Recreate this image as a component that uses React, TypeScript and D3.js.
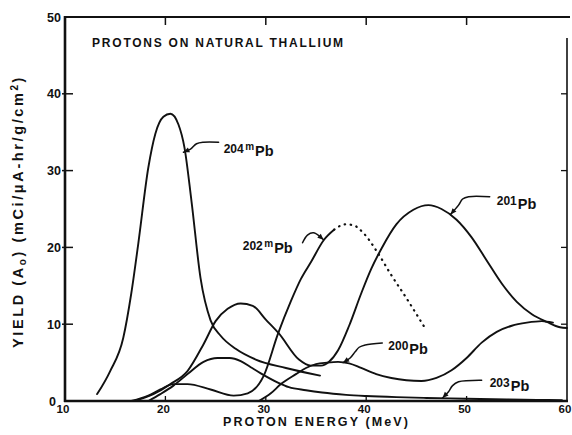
import React from 'react';
import * as d3 from 'd3';

// ---- data (E in MeV, yield in mCi/uA-hr/g/cm2) ----
const xTickValues = [10, 20, 30, 40, 50, 60];
const yTickValues = [0, 10, 20, 30, 40, 50];
const xTickLabels = ['10', '20', '30', '40', '50', '60'];
const yTickLabels = ['0', '10', '20', '30', '40', '50'];

const e204m = [13.2, 14.5, 15.8, 16.6, 17.3, 18.3, 19.0, 19.8, 20.5, 21.3, 21.9, 22.6, 23.5, 24.5, 25.5, 27.0, 29.0, 32.0, 35.4];
const y204m = [0.9, 3.9, 8.2, 14.0, 20.5, 30.4, 34.8, 37.0, 37.4, 36.0, 33.0, 26.0, 16.0, 10.5, 8.5, 6.8, 5.4, 4.3, 3.3];

const e201 = [16.9, 18.8, 20.5, 22.2, 23.8, 25.0, 26.2, 27.5, 28.7, 30.0, 31.3, 33.3, 34.5, 35.5, 36.3, 37.2, 38.3, 39.5, 40.5, 41.5, 43.0, 44.7, 46.2, 47.5, 49.0, 50.5, 52.0, 53.5, 55.0, 56.5, 58.0, 59.3, 60.0];
const y201 = [0.0, 0.9, 2.2, 3.9, 7.4, 10.4, 12.0, 12.7, 12.4, 10.6, 8.8, 5.4, 4.6, 4.6, 5.1, 6.6, 9.8, 14.0, 17.2, 19.8, 23.0, 24.9, 25.5, 25.0, 23.6, 21.3, 18.3, 15.3, 12.9, 11.3, 10.3, 9.6, 9.5];

const e202m = [16.6, 18.3, 19.5, 20.8, 22.2, 24.5, 26.8, 28.2, 29.8, 31.2, 32.5, 33.5, 34.5, 35.8, 36.8];
const y202m = [0.0, 0.7, 1.5, 2.2, 2.2, 1.5, 0.7, 1.0, 3.3, 8.7, 13.0, 15.9, 18.1, 21.0, 22.3];
const e202mDot = [36.8, 37.9, 38.7, 39.7, 41.1, 42.4, 44.1, 45.9];
const y202mDot = [22.3, 23.0, 22.9, 21.9, 19.4, 16.6, 13.2, 9.4];

const e200 = [29.3, 30.5, 31.5, 33.0, 34.0, 35.0, 36.1, 37.2, 38.3, 39.5, 41.0, 42.5, 44.0, 45.5, 47.0, 48.5, 50.0, 51.5, 53.0, 54.5, 56.0, 57.5, 58.6];
const y200 = [0.0, 1.0, 2.2, 3.5, 4.3, 4.8, 5.0, 5.1, 4.9, 4.3, 3.5, 3.0, 2.7, 2.6, 3.0, 4.0, 5.6, 7.6, 9.0, 9.8, 10.2, 10.4, 10.2];

const e203 = [18.3, 19.5, 20.8, 22.2, 23.8, 25.2, 26.4, 27.5, 28.5, 29.5, 31.2, 32.3, 34.0, 35.6, 38.0, 40.0, 43.0, 46.0, 50.0, 54.0, 57.0, 59.5];
const y203 = [0.0, 0.9, 2.0, 3.5, 5.1, 5.6, 5.6, 5.2, 4.4, 3.6, 2.4, 1.8, 1.4, 1.1, 0.8, 0.65, 0.5, 0.4, 0.3, 0.2, 0.15, 0.1];

// annotation leaders (data coords), first point touches the curve
const lead204mE = [21.8, 22.5, 23.1, 23.8, 25.3];
const lead204mY = [32.4, 32.8, 33.5, 33.7, 33.7];
const lead202mE = [35.75, 35.45, 34.75, 34.15, 33.66];
const lead202mY = [21.0, 21.35, 21.9, 21.6, 20.6];
const lead201E = [48.4, 49.2, 49.6, 50.2, 52.3];
const lead201Y = [24.3, 25.5, 26.3, 26.6, 26.6];
const lead200E = [37.7, 38.4, 38.9, 39.3, 39.9, 41.6];
const lead200Y = [5.0, 5.6, 6.4, 7.0, 7.3, 7.55];
const lead203E = [47.6, 48.2, 48.6, 49.2, 51.5];
const lead203Y = [0.4, 1.2, 2.0, 2.5, 2.7];

const zip = (a: number[], b: number[]): [number, number][] => a.map((v, i) => [v, b[i]]);

export default function App() {
  const W = 572, H = 435;
  const x = d3.scaleLinear().domain([10, 60]).range([65, 567]);
  const y = d3.scaleLinear().domain([0, 50]).range([401, 17]);
  const curve = d3.line<[number, number]>().x(d => x(d[0])).y(d => y(d[1])).curve(d3.curveMonotoneX);
  const lead = d3.line<[number, number]>().x(d => x(d[0])).y(d => y(d[1])).curve(d3.curveCatmullRom.alpha(0.5));

  const font = "'Liberation Sans', Arial, sans-serif";
  const series = [zip(e204m, y204m), zip(e201, y201), zip(e202m, y202m), zip(e200, y200), zip(e203, y203)];
  const leaders = [
    zip(lead204mE, lead204mY), zip(lead202mE, lead202mY), zip(lead201E, lead201Y),
    zip(lead200E, lead200Y), zip(lead203E, lead203Y),
  ];

  const arrow = (pts: [number, number][]) => {
    const [x0, y0] = [x(pts[0][0]), y(pts[0][1])];
    const [x1, y1] = [x(pts[1][0]), y(pts[1][1])];
    const a = Math.atan2(y0 - y1, x0 - x1);
    const L = 6, w = 2.6;
    const bx = x0 - L * Math.cos(a), by = y0 - L * Math.sin(a);
    const p1 = [bx + w * Math.sin(a), by - w * Math.cos(a)];
    const p2 = [bx - w * Math.sin(a), by + w * Math.cos(a)];
    return `M${x0},${y0}L${p1[0]},${p1[1]}L${p2[0]},${p2[1]}Z`;
  };

  const isoLabel = (px: number, py: number, num: string, sup: string | null, key = '') => (
    <text key={key} x={px} y={py} fontFamily={font} fontWeight={700} fill="#111">
      <tspan fontSize={12}>{num}</tspan>
      {sup ? <tspan fontSize={10} dy={-3} dx={1.5}>{sup}</tspan> : null}
      <tspan fontSize={14.5} dy={sup ? 6 : 4} dx={1}>Pb</tspan>
    </text>
  );

  return (
    <svg width={W} height={H} style={{ position: 'absolute', left: 0, top: 0, background: '#fff' }}>
      <rect x={0} y={0} width={W} height={H} fill="#fff" />
      {/* frame */}
      <line x1={65} y1={17} x2={570} y2={17} stroke="#111" strokeWidth={2} />
      <line x1={567} y1={38} x2={567} y2={401} stroke="#111" strokeWidth={1.6} />
      <line x1={65} y1={16} x2={65} y2={402} stroke="#111" strokeWidth={2.6} />
      <line x1={64} y1={401} x2={568} y2={401} stroke="#111" strokeWidth={2.6} />
      {/* ticks */}
      {yTickValues.filter(v => v > 0 && v < 50).map(v => (
        <g key={'yt' + v}>
          <line x1={x(10) - 3} x2={x(10) + 8} y1={y(v)} y2={y(v)} stroke="#111" strokeWidth={1.5} />
          <line x1={x(60) - 6} x2={x(60)} y1={y(v)} y2={y(v)} stroke="#111" strokeWidth={1.3} />
        </g>
      ))}
      {xTickValues.filter(v => v > 10 && v < 60).map(v => (
        <g key={'xt' + v}>
          <line x1={x(v)} x2={x(v)} y1={y(0)} y2={y(0) - 5} stroke="#111" strokeWidth={1.3} />
          <line x1={x(v)} x2={x(v)} y1={y(50)} y2={y(50) + 8} stroke="#111" strokeWidth={1.5} />
        </g>
      ))}
      {/* tick labels */}
      {xTickValues.map((v, i) => (
        <text key={'xl' + v} x={x(v) - 2} y={413} fontFamily={font} fontWeight={700} fontSize={11.5} textAnchor="middle" fill="#111">{xTickLabels[i]}</text>
      ))}
      {yTickValues.map((v, i) => (
        <text key={'yl' + v} x={v === 0 ? 56 : 61} y={y(v) + 4.5} fontFamily={font} fontWeight={700} fontSize={12.5} textAnchor="end" fill="#111">{yTickLabels[i]}</text>
      ))}
      {/* axis titles */}
      <text x={223} y={426} fontFamily={font} fontWeight={700} fontSize={12.5} fill="#111" textLength={185} lengthAdjust="spacing">PROTON ENERGY (MeV)</text>
      <text transform={`translate(23,348) rotate(-90)`} fontFamily={font} fontWeight={700} fontSize={14.5} fill="#111" letterSpacing={2.6}>
        YIELD (A<tspan fontSize={10} dy={3}>o</tspan><tspan dy={-3}>) (mCi/μA-hr/g/cm</tspan><tspan fontSize={10} dy={-5}>2</tspan><tspan dy={5}>)</tspan>
      </text>
      <text x={x(12.7)} y={y(46.1)} fontFamily={font} fontWeight={700} fontSize={12} fill="#111" textLength={251} lengthAdjust="spacing">PROTONS ON NATURAL THALLIUM</text>
      {/* curves */}
      {series.map((s, i) => (
        <path key={'s' + i} d={curve(s) || ''} fill="none" stroke="#111" strokeWidth={1.9} strokeLinejoin="round" strokeLinecap="round" />
      ))}
      <path d={curve(zip(e202mDot, y202mDot)) || ''} fill="none" stroke="#111" strokeWidth={2.2} strokeDasharray="0.5 5.5" strokeLinecap="round" />
      {/* leaders */}
      {leaders.map((l, i) => (
        <g key={'ld' + i}>
          <path d={lead(l) || ''} fill="none" stroke="#111" strokeWidth={1.5} strokeLinecap="round" />
          <path d={arrow(l)} fill="#111" />
        </g>
      ))}
      {isoLabel(x(25.8), y(32.3), '204', 'm', 'l204')}
      {isoLabel(x(27.7), y(19.6), '202', 'm', 'l202')}
      {isoLabel(x(53.0), y(25.5), '201', null, 'l201')}
      {isoLabel(x(42.2), y(6.6), '200', null, 'l200')}
      {isoLabel(x(52.3), y(1.8), '203', null, 'l203')}
    </svg>
  );
}
